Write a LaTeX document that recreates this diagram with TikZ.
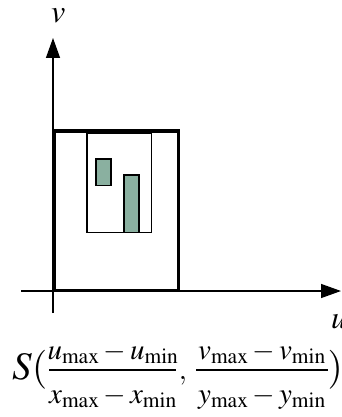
\documentclass[tikz,border=0pt]{standalone}
\usepackage{mathptmx}
\usetikzlibrary{arrows.meta}
\definecolor{boxgreen}{RGB}{138,176,160}
\tikzset{
  axis/.style={line width=1.4pt,-{Triangle[length=20pt,width=14pt]}},
  outerbox/.style={line width=3.3pt},
  innerbox/.style={line width=1.2pt},
  greenbox/.style={draw,line width=1.6pt,fill=boxgreen},
  lab/.style={inner sep=0pt,anchor=base west,font=\fontsize{32}{36}\selectfont},
  big/.style={inner sep=0pt,anchor=base west,font=\fontsize{39}{44}\selectfont},
  frac/.style={inner sep=0pt,anchor=base,font=\fontsize{29}{35}\selectfont},
  fracbar/.style={line width=1.4pt}
}
\begin{document}
\begin{tikzpicture}[x=1pt,y=-1pt]
\useasboundingbox (0,0) rectangle (342,417);
\coordinate (vstart) at (53,313);
\coordinate (vend) at (53,38);
\coordinate (ustart) at (21,291);
\coordinate (uend) at (341,291);
\draw[axis] (vstart) -- (vend);
\draw[axis] (ustart) -- (uend);
\draw[outerbox] (54.5,131) rectangle (178.5,290.5);
\draw[innerbox] (87,133) rectangle (151.7,232.3);
\draw[greenbox] (96,159) rectangle (111,185.5);
\draw[greenbox] (124,175) rectangle (139,232.5);
\node[lab] (vlab) at (51,23) {$v$};
\node[lab] (ulab) at (331,328) {$u$};
% formula
\node[big] (sopen) at (12,379) {$S($};
\node[frac] (num1) at (113,359) {$u_{\mathrm{max}}-u_{\mathrm{min}}$};
\node[frac] (den1) at (113,403) {$x_{\mathrm{max}}-x_{\mathrm{min}}$};
\coordinate (bar1a) at (49,370);
\coordinate (bar1b) at (176,370);
\draw[fracbar] (bar1a) -- (bar1b);
\node[frac] (comma) at (183,379) {$,$};
\node[frac] (num2) at (262,359) {$v_{\mathrm{max}}-v_{\mathrm{min}}$};
\node[frac] (den2) at (262,403) {$y_{\mathrm{max}}-y_{\mathrm{min}}$};
\coordinate (bar2a) at (196,370);
\coordinate (bar2b) at (328,370);
\draw[fracbar] (bar2a) -- (bar2b);
\node[big] (sclose) at (327.5,379) {$)$};
\end{tikzpicture}
\end{document}
